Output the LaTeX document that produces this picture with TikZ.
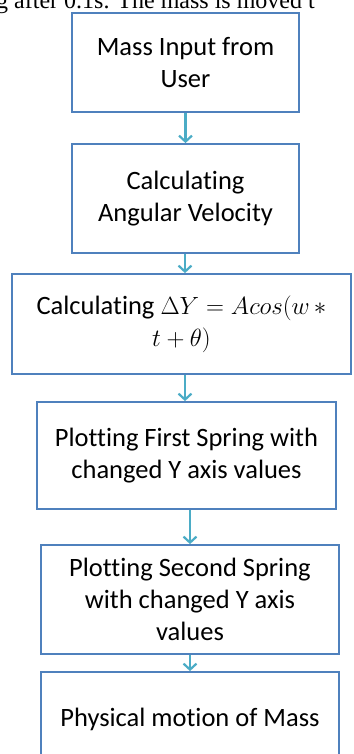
\documentclass[tikz,border=0pt]{standalone}
\usepackage{fontspec}
\setmainfont[Ligatures=NoCommon]{Carlito}
\newfontfamily\bodyserif{Liberation Serif}
\usetikzlibrary{arrows.meta}
\definecolor{boxblue}{RGB}{79,129,189}
\definecolor{arrowteal}{RGB}{75,172,198}
\tikzset{
  stepbox/.style={draw=boxblue, line width=1.8pt, fill=white, inner sep=0pt, align=center,
    font=\fontsize{26.5}{32}\selectfont},
  flowarrow/.style={draw=arrowteal, line width=2.2pt,
    -{Straight Barb[length=6pt,width=13pt,line width=2.2pt]}}
}
\begin{document}
\begin{tikzpicture}[x=1pt,y=-1pt]
\useasboundingbox (0,0) rectangle (353,754);
\clip (0,0) rectangle (353,754);
\node[anchor=base west, font=\bodyserif\fontsize{24}{28}\selectfont, inner sep=0pt] (top) at (-4,9) {g after 0.1s. The mass is moved t};
\node[stepbox, minimum width=227pt, minimum height=99pt] (b1) at (185.5,62.5) {Mass Input from\\User};
\node[stepbox, minimum width=227pt, minimum height=109pt] (b2) at (185.5,198.5) {Calculating\\Angular Velocity};
\node[stepbox, minimum width=339pt, minimum height=100pt] (b3) at (181.5,324) {Calculating $\Delta Y = Acos(w\, *$\\$t+\theta)$};
\node[stepbox, minimum width=299pt, minimum height=107pt] (b4) at (186.5,455.5) {Plotting First Spring with\\changed Y axis values};
\node[stepbox, minimum width=298pt, minimum height=109pt] (b5) at (190,599.5) {Plotting Second Spring\\with changed Y axis\\values};
\node[stepbox, minimum width=298pt, minimum height=94pt] (b6) at (190,719) {Physical motion of Mass};
\draw[flowarrow] (b1.south) -- (b2.north);
\draw[flowarrow] ([xshift=-0.5pt]b2.south) -- ([xshift=3.5pt]b3.north);
\draw[flowarrow] ([xshift=3.5pt]b3.south) -- ([xshift=-1.5pt]b4.north);
\draw[flowarrow] ([xshift=3.5pt]b4.south) -- (b5.north);
\draw[flowarrow] (b5.south) -- (b6.north);
\end{tikzpicture}
\end{document}
